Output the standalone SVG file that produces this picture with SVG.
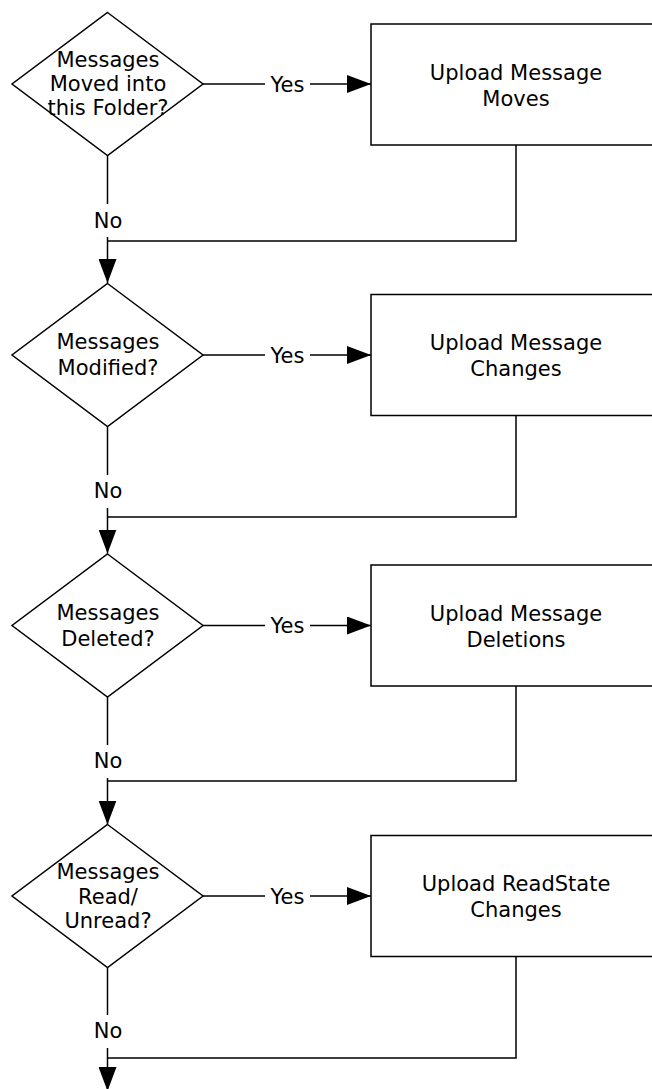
<svg xmlns="http://www.w3.org/2000/svg" width="652" height="1089" viewBox="0 0 652 1089">
<style>
.shape{fill:#fff;stroke:#000;stroke-width:1.5}
.line{fill:none;stroke:#000;stroke-width:1.5}
text{font-family:"DejaVu Sans",Verdana,sans-serif;font-size:21px;fill:#000;text-anchor:middle}
</style>
<defs>
<marker id="arr" markerUnits="userSpaceOnUse" markerWidth="24" markerHeight="18" refX="24" refY="9" orient="auto" viewBox="0 0 24 18">
<path d="M0,0 L24,9 L0,18 z" fill="#000"/>
</marker>
</defs>
<rect width="652" height="1089" fill="#fff"/>
<g id="connectors">
<!-- row 1 -->
<path class="line" d="M203,84 H265"/>
<path class="line" d="M310,84 H371" marker-end="url(#arr)"/>
<path class="line" d="M516,145 V241 H107.5"/>
<path class="line" d="M107.5,155.5 V204"/>
<path class="line" d="M107.5,237 V283" marker-end="url(#arr)"/>
<text x="287.5" y="91.5">Yes</text>
<text x="108" y="227.5">No</text>
<!-- row 2 -->
<path class="line" d="M203,355 H265"/>
<path class="line" d="M310,355 H371" marker-end="url(#arr)"/>
<path class="line" d="M516,415.5 V517 H107.5"/>
<path class="line" d="M107.5,426.5 V475"/>
<path class="line" d="M107.5,508 V553.5" marker-end="url(#arr)"/>
<text x="287.5" y="362.5">Yes</text>
<text x="108" y="497.5">No</text>
<!-- row 3 -->
<path class="line" d="M203,625.5 H265"/>
<path class="line" d="M310,625.5 H371" marker-end="url(#arr)"/>
<path class="line" d="M516,686 V781 H107.5"/>
<path class="line" d="M107.5,697 V745"/>
<path class="line" d="M107.5,778 V824.5" marker-end="url(#arr)"/>
<text x="287.5" y="633">Yes</text>
<text x="108" y="767.5">No</text>
<!-- row 4 -->
<path class="line" d="M203,896 H265"/>
<path class="line" d="M310,896 H371" marker-end="url(#arr)"/>
<path class="line" d="M516,956.5 V1058 H107.5"/>
<path class="line" d="M107.5,967.5 V1015"/>
<path class="line" d="M107.5,1048 V1091" marker-end="url(#arr)"/>
<text x="287.5" y="903.5">Yes</text>
<text x="108" y="1037.5">No</text>
</g>
<g id="d1">
<path class="shape" d="M107.5,12.5 L203,84 L107.5,155.5 L12,84 z"/>
<text x="108" y="67">Messages</text>
<text x="108" y="91">Moved into</text>
<text x="108" y="115">this Folder?</text>
</g>
<g id="b1">
<rect class="shape" x="371" y="24" width="290" height="121"/>
<text x="516" y="79.5">Upload Message</text>
<text x="516" y="105.5">Moves</text>
</g>
<g id="d2">
<path class="shape" d="M107.5,283.5 L203,355 L107.5,426.5 L12,355 z"/>
<text x="108" y="349">Messages</text>
<text x="108" y="375">Modified?</text>
</g>
<g id="b2">
<rect class="shape" x="371" y="294.5" width="290" height="121"/>
<text x="516" y="350">Upload Message</text>
<text x="516" y="376">Changes</text>
</g>
<g id="d3">
<path class="shape" d="M107.5,554 L203,625.5 L107.5,697 L12,625.5 z"/>
<text x="108" y="619.5">Messages</text>
<text x="108" y="645.5">Deleted?</text>
</g>
<g id="b3">
<rect class="shape" x="371" y="565" width="290" height="121"/>
<text x="516" y="620.5">Upload Message</text>
<text x="516" y="646.5">Deletions</text>
</g>
<g id="d4">
<path class="shape" d="M107.5,824.5 L203,896 L107.5,967.5 L12,896 z"/>
<text x="108" y="879">Messages</text>
<text x="108" y="903.5">Read/</text>
<text x="108" y="927.5">Unread?</text>
</g>
<g id="b4">
<rect class="shape" x="371" y="835.5" width="290" height="121"/>
<text x="516" y="891">Upload ReadState</text>
<text x="516" y="917">Changes</text>
</g>
</svg>
